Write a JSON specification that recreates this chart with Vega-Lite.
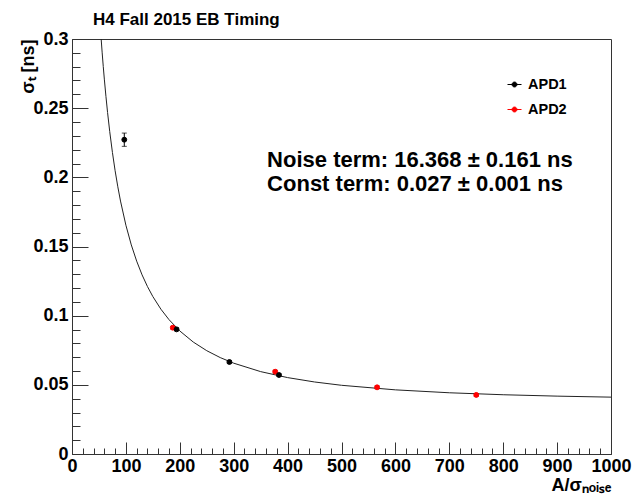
{
  "$schema": "https://vega.github.io/schema/vega-lite/v6.json",
  "width": 539,
  "height": 415,
  "autosize": "none",
  "padding": {"left": 72, "top": 39, "right": 25, "bottom": 43},
  "background": "white",
  "config": {
    "view": {"stroke": "#333", "strokeWidth": 1},
    "font": "Liberation Sans"
  },
  "title": {
    "text": "H4 Fall 2015 EB Timing",
    "anchor": "start",
    "frame": "group",
    "dx": 21,
    "offset": 1,
    "font": "Liberation Sans",
    "fontWeight": "bold",
    "fontSize": 17,
    "color": "#000"
  },
  "datasets": {
    "curve": [
      {"A": 54.1, "sigma": 0.3},
      {"A": 56, "sigma": 0.28998},
      {"A": 58, "sigma": 0.28015},
      {"A": 60, "sigma": 0.27099},
      {"A": 63, "sigma": 0.25834},
      {"A": 66, "sigma": 0.24685},
      {"A": 70, "sigma": 0.23309},
      {"A": 75, "sigma": 0.21798},
      {"A": 80, "sigma": 0.20477},
      {"A": 85, "sigma": 0.19315},
      {"A": 90, "sigma": 0.18285},
      {"A": 100, "sigma": 0.16538},
      {"A": 110, "sigma": 0.15117},
      {"A": 120, "sigma": 0.1394},
      {"A": 130, "sigma": 0.12949},
      {"A": 140, "sigma": 0.12106},
      {"A": 150, "sigma": 0.1138},
      {"A": 165, "sigma": 0.10465},
      {"A": 180, "sigma": 0.09711},
      {"A": 200, "sigma": 0.08894},
      {"A": 225, "sigma": 0.08093},
      {"A": 250, "sigma": 0.07468},
      {"A": 275, "sigma": 0.0697},
      {"A": 300, "sigma": 0.06565},
      {"A": 350, "sigma": 0.05955},
      {"A": 400, "sigma": 0.05523},
      {"A": 450, "sigma": 0.05206},
      {"A": 500, "sigma": 0.04967},
      {"A": 600, "sigma": 0.04637},
      {"A": 700, "sigma": 0.04426},
      {"A": 800, "sigma": 0.04284},
      {"A": 900, "sigma": 0.04183},
      {"A": 1000, "sigma": 0.0411}
    ],
    "points": [
      {"series": "APD2", "A": 187, "sigma": 0.0913, "err": 0.001},
      {"series": "APD2", "A": 377, "sigma": 0.0595, "err": 0.001},
      {"series": "APD2", "A": 566, "sigma": 0.0482, "err": 0.001},
      {"series": "APD2", "A": 750, "sigma": 0.0427, "err": 0.001},
      {"series": "APD1", "A": 97, "sigma": 0.2272, "err": 0.0048},
      {"series": "APD1", "A": 194, "sigma": 0.0901, "err": 0.001},
      {"series": "APD1", "A": 292, "sigma": 0.0665, "err": 0.001},
      {"series": "APD1", "A": 384, "sigma": 0.0571, "err": 0.001}
    ],
    "labels": [
      {"A": 362, "sigma": 0.2073, "label": "Noise term: 16.368 ± 0.161 ns"},
      {"A": 362, "sigma": 0.1901, "label": "Const term: 0.027 ± 0.001 ns"}
    ]
  },
  "encoding": {
    "x": {
      "field": "A",
      "type": "quantitative",
      "scale": {"domain": [0, 1000], "nice": false, "zero": true},
      "axis": {
        "title": "A/σₙₒᵢₛₑ",
        "titleFont": "Liberation Sans",
        "titleFontWeight": "bold",
        "titleFontSize": 18,
        "titleColor": "#000",
        "titleAnchor": "end",
        "titleAlign": "right",
        "titleBaseline": "alphabetic",
        "titleX": 539,
        "titleY": 36,
        "values": [0,20,40,60,80,100,120,140,160,180,200,220,240,260,280,300,320,340,360,380,400,420,440,460,480,500,520,540,560,580,600,620,640,660,680,700,720,740,760,780,800,820,840,860,880,900,920,940,960,980,1000],
        "labelExpr": "datum.value % 100 === 0 ? format(datum.value, 'd') : ''",
        "labelFont": "Liberation Sans",
        "labelFontWeight": "bold",
        "labelFontSize": 18,
        "labelColor": "#000",
        "labelOverlap": false,
        "labelFlush": false,
        "labelBaseline": "top",
        "labelPadding": 15,
        "tickSize": {"condition": {"test": "datum.value % 100 === 0", "value": -12}, "value": -6},
        "tickColor": "#333",
        "domainColor": "#333",
        "grid": false
      }
    },
    "y": {
      "field": "sigma",
      "type": "quantitative",
      "scale": {"domain": [0, 0.3], "nice": false, "zero": true},
      "axis": {
        "title": "σₜ [ns]",
        "titleFont": "Liberation Sans",
        "titleFontWeight": "bold",
        "titleFontSize": 18,
        "titleColor": "#000",
        "titleAngle": 270,
        "titleAlign": "right",
        "titleBaseline": "alphabetic",
        "titleX": -39,
        "titleY": 0,
        "values": [0,0.01,0.02,0.03,0.04,0.05,0.06,0.07,0.08,0.09,0.1,0.11,0.12,0.13,0.14,0.15,0.16,0.17,0.18,0.19,0.2,0.21,0.22,0.23,0.24,0.25,0.26,0.27,0.28,0.29,0.3],
        "labelExpr": "round(datum.value * 100) % 5 === 0 ? format(datum.value, '.2~f') : ''",
        "labelFont": "Liberation Sans",
        "labelFontWeight": "bold",
        "labelFontSize": 18,
        "labelColor": "#000",
        "labelOverlap": false,
        "labelFlush": false,
        "labelPadding": 20,
        "tickSize": {"condition": {"test": "round(datum.value * 100) % 5 === 0", "value": -16}, "value": -8},
        "tickColor": "#333",
        "domainColor": "#333",
        "grid": false
      }
    }
  },
  "layer": [
    {
      "data": {"name": "curve"},
      "mark": {"type": "line", "color": "#222", "strokeWidth": 1, "clip": true}
    },
    {
      "data": {"name": "points"},
      "mark": {"type": "errorbar", "ticks": {"size": 5, "color": "#000"}, "color": "#000"},
      "encoding": {
        "yError": {"field": "err"}
      }
    },
    {
      "data": {"name": "points"},
      "mark": {"type": "point", "shape": "circle", "filled": true, "size": 24, "strokeWidth": 1, "opacity": 1},
      "encoding": {
        "fill": {
          "field": "series",
          "type": "nominal",
          "scale": {"domain": ["APD1", "APD2"], "range": ["#000000", "#ff0000"]},
          "legend": {
            "orient": "none",
            "legendX": 435,
            "legendY": 38,
            "title": null,
            "symbolType": "M-1,0H1M-0.35,0A0.35,0.35 0 1,0 0.35,0A0.35,0.35 0 1,0 -0.35,0Z",
            "symbolSize": 196,
            "symbolStrokeWidth": 1,
            "labelFont": "Liberation Sans",
            "labelFontSize": 14.5,
            "labelFontWeight": "bold",
            "labelColor": "#000",
            "labelOffset": 6,
            "rowPadding": 10
          }
        },
        "stroke": {
          "field": "series",
          "type": "nominal",
          "scale": {"domain": ["APD1", "APD2"], "range": ["#000000", "#ff0000"]},
          "legend": {
            "orient": "none",
            "legendX": 435,
            "legendY": 38,
            "title": null,
            "symbolType": "M-1,0H1M-0.35,0A0.35,0.35 0 1,0 0.35,0A0.35,0.35 0 1,0 -0.35,0Z",
            "symbolSize": 196,
            "symbolStrokeWidth": 1,
            "labelFont": "Liberation Sans",
            "labelFontSize": 14.5,
            "labelFontWeight": "bold",
            "labelColor": "#000",
            "labelOffset": 6,
            "rowPadding": 10
          }
        }
      }
    },
    {
      "data": {"name": "labels"},
      "mark": {"type": "text", "align": "left", "baseline": "alphabetic", "font": "Liberation Sans", "fontSize": 22, "fontWeight": "bold", "color": "#000"},
      "encoding": {
        "text": {"field": "label"}
      }
    }
  ]
}
